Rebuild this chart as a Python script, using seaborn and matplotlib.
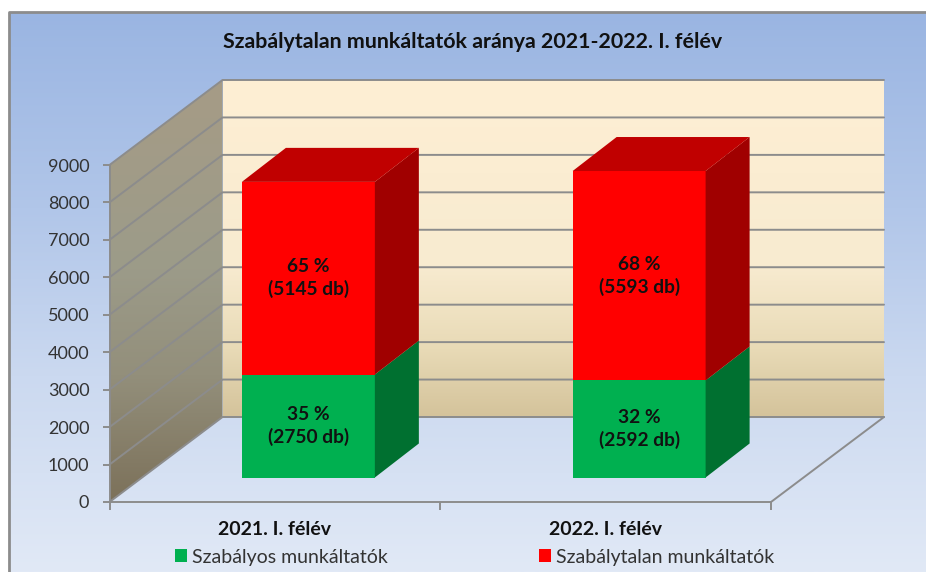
import matplotlib
matplotlib.use('Agg')
import matplotlib.pyplot as plt
from matplotlib.colors import LinearSegmentedColormap as lsc
from matplotlib.patches import Patch, Polygon
import numpy as np
import seaborn as sns

# chart values
periods = ['2021. I. félév', '2022. I. félév']
regular = [2750, 2592]
irregular = [5145, 5593]
regular_pct = [35, 32]
irregular_pct = [65, 68]
y_ticks = [0, 1000, 2000, 3000, 4000, 5000, 6000, 7000, 8000, 9000]
title = 'Szabálytalan munkáltatók aránya 2021-2022. I. félév'
legend_labels = ['Szabályos munkáltatók', 'Szabálytalan munkáltatók']

W, H = 926, 572
# pixel geometry of the front plane of the fake 3d box
X0, X1, Y0, Y9 = 109.5, 771, 502, 165
BOX_PX, BOX_PY = 113, 85
PX_X = (X1 - X0) / 2
PX_Y = (Y0 - Y9) / 9000
# depth of the box and the bars, in data units
BOX_DX, BOX_DY = BOX_PX / PX_X, BOX_PY / PX_Y
BAR_DX, BAR_DY = 44 / PX_X, 34 / PX_Y

sns.set_theme(style='white')
plt.rcParams['font.family'] = ['Lato', 'DejaVu Sans']

RED, RED_TOP, RED_SIDE = '#ff0000', '#c00000', '#a00000'
GREEN, GREEN_SIDE = '#00b050', '#007030'
LINE = '#8c8c8c'
TEXT_DARK = '#111111'
TEXT_GREY = '#333333'


def box(x0, y0, x1, y1):
    return [x0 / W, 1 - y0 / H, (x1 - x0) / W, (y0 - y1) / H]


def gradient(ax, colors, extent, clip=None):
    cmap = lsc.from_list('g', colors)
    img = ax.imshow(np.linspace(0, 1, 256)[:, None], cmap=cmap, extent=extent,
                    aspect='auto', origin='upper')
    if clip is not None:
        ax.add_patch(clip)
        img.set_clip_path(clip)
    return img


fig = plt.figure(figsize=(W / 100, H / 100), dpi=100, facecolor='white')

# frame with the blue gradient, the walls live here too in pixel coordinates
ax_bg = fig.add_axes([0, 0, 1, 1])
gradient(ax_bg, [(0, '#9ab5e2'), (0.35, '#b1c6e9'), (0.65, '#cbd9f0'), (1, '#e1e9f6')],
         (9, W, H, 12))
ax_bg.plot([9, 9, W], [H, 12, 12], color=LINE, lw=2, solid_capstyle='butt')

bx0, bx1 = X0 + BOX_PX, X1 + BOX_PX
by0, by9 = Y0 - BOX_PY, Y9 - BOX_PY
gradient(ax_bg, [(0, '#feefd4'), (0.55, '#f8ebd0'), (0.8, '#e8dab6'), (1, '#d4c39b')],
         (bx0, bx1, by0, by9),
         clip=Polygon([(bx0, by0), (bx1, by0), (bx1, by9), (bx0, by9)], fc='none', ec='none'))
gradient(ax_bg, [(0, '#a69c86'), (0.45, '#9c9b89'), (0.7, '#938f7b'), (1, '#7c715a')],
         (X0, bx0, Y0, by9),
         clip=Polygon([(X0, Y0), (bx0, by0), (bx0, by9), (X0, Y9)], fc='none', ec='none'))
ax_bg.set_xlim(0, W)
ax_bg.set_ylim(H, 0)
ax_bg.axis('off')

# front plane, carries the value axis and the wall grid
ax = fig.add_axes(box(X0, Y0, X1, Y9))
ax.patch.set_alpha(0)

for v in y_ticks:
    ax.plot([-0.5, -0.5 + BOX_DX, 1.5 + BOX_DX], [v, v + BOX_DY, v + BOX_DY],
            color=LINE, lw=1.4, clip_on=False, zorder=2)
ax.plot([1.5, 1.5 + BOX_DX], [0, BOX_DY], color=LINE, lw=1.4, clip_on=False, zorder=2)

ax.set_xlim(-0.5, 1.5)
ax.set_ylim(0, 9000)
ax.set_xticks([-0.5, 0.5, 1.5])
ax.set_xticklabels([])
ax.set_xticks([0, 1], labels=periods, minor=True)
ax.set_yticks(y_ticks)
ax.tick_params(axis='y', labelsize=13, labelcolor=TEXT_GREY, color=LINE, left=True,
               length=5, width=1.4, pad=9.5)
ax.tick_params(axis='x', which='major', bottom=True, color=LINE, length=6, width=1.4)
ax.tick_params(axis='x', which='minor', bottom=False, labelsize=14, pad=9.5,
               labelcolor=TEXT_DARK)
for lab in ax.get_xticklabels(minor=True):
    lab.set_fontweight('bold')
sns.despine(ax=ax, top=True, right=True)
for s in ['left', 'bottom']:
    ax.spines[s].set_color(LINE)
    ax.spines[s].set_linewidth(1.4)

# the bars stand inside the box, on a plane moved back from the front
ax_bar = fig.add_axes(box(X0 + 33.5, Y0 - 24.5, X1 + 33.5, Y9 - 24.5))
ax_bar.patch.set_alpha(0)
sns.barplot(x=periods, y=regular, color=GREEN, saturation=1, width=0.402, linewidth=0,
            ax=ax_bar)
sns.barplot(x=periods, y=irregular, bottom=regular, color=RED, saturation=1, width=0.402,
            linewidth=0, ax=ax_bar)
ax_bar.set_xlim(-0.5, 1.5)
ax_bar.set_ylim(0, 9000)
ax_bar.axis('off')

for i, rect in enumerate(list(ax_bar.patches)):
    x0 = rect.get_x()
    x1 = x0 + rect.get_width()
    y0 = rect.get_y()
    y1 = y0 + rect.get_height()
    is_red = i >= 2
    ax_bar.add_patch(Polygon([(x1, y0), (x1 + BAR_DX, y0 + BAR_DY),
                              (x1 + BAR_DX, y1 + BAR_DY), (x1, y1)],
                             fc=RED_SIDE if is_red else GREEN_SIDE, ec='none',
                             clip_on=False))
    if is_red:
        ax_bar.add_patch(Polygon([(x0, y1), (x0 + BAR_DX, y1 + BAR_DY),
                                  (x1 + BAR_DX, y1 + BAR_DY), (x1, y1)],
                                 fc=RED_TOP, ec='none', clip_on=False))

for i in range(len(periods)):
    ax_bar.text(i, regular[i] / 2, f'{regular_pct[i]} %\n({regular[i]} db)',
                ha='center', va='center', fontsize=13.8, fontweight='bold',
                color=TEXT_DARK, linespacing=1.35)
    ax_bar.text(i, regular[i] + irregular[i] / 2, f'{irregular_pct[i]} %\n({irregular[i]} db)',
                ha='center', va='center', fontsize=13.8, fontweight='bold',
                color=TEXT_DARK, linespacing=1.35)

fig.text(473 / W, 1 - 42 / H, title, ha='center', va='center', fontsize=15.4,
         fontweight='bold', color=TEXT_DARK)

handles = [Patch(fc=GREEN, ec='none'), Patch(fc=RED, ec='none')]
fig.legend(handles, legend_labels, ncol=2, frameon=False, fontsize=14, labelcolor=TEXT_GREY,
           loc='center', bbox_to_anchor=(474.5 / W, 1 - 557 / H), handlelength=0.62,
           handleheight=0.62, handletextpad=0.25, columnspacing=7.8, borderpad=0)

fig.savefig('out.png', dpi=100)
